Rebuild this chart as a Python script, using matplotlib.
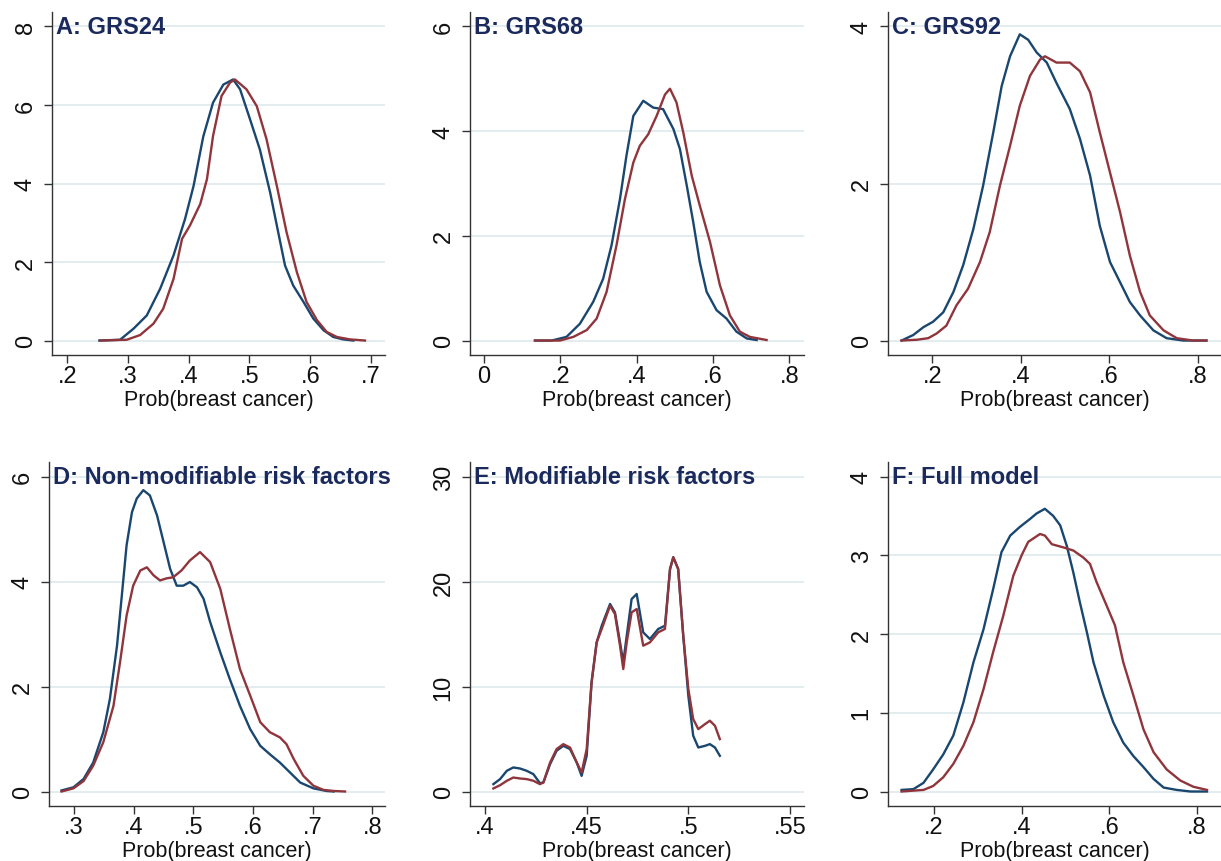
import matplotlib
matplotlib.use('Agg')
import matplotlib.pyplot as plt
import matplotlib.transforms as mtransforms

plt.rcParams['font.family'] = ['Liberation Sans', 'DejaVu Sans']

# ---- data (kernel density curves) ----
a_blue_x = [.253, .287, .309, .331, .353, .375, .394, .408, .424, .44, .457, .473, .4845, .501, .517,
            .534, .545, .5585, .572, .589, .605, .622, .638, .654, .671]
a_blue_y = [0, .02, .3, .64, 1.32, 2.17, 3.1, 3.94, 5.2, 6.06, 6.52, 6.65, 6.4, 5.63, 4.87,
            3.77, 2.93, 1.91, 1.4, .98, .56, .26, .09, .03, 0]
a_red_x = [.254, .298, .32, .342, .358, .375, .389, .402, .419, .43, .44, .454, .468, .476, .495,
           .512, .528, .545, .561, .578, .594, .611, .627, .644, .665, .69]
a_red_y = [0, .02, .14, .43, .81, 1.57, 2.59, 2.93, 3.48, 4.11, 5.21, 6.23, 6.57, 6.65, 6.4,
           5.97, 5.13, 3.94, 2.76, 1.74, .98, .52, .22, .09, .03, 0]

b_blue_x = [.1335, .177, .216, .251, .286, .312, .334, .356, .373, .391, .417, .443, .469, .496, .513,
            .531, .548, .565, .583, .609, .635, .661, .688, .714]
b_blue_y = [0, 0, .07, .32, .74, 1.18, 1.82, 2.7, 3.53, 4.29, 4.58, 4.45, 4.42, 4.04, 3.66,
            2.96, 2.26, 1.5, .93, .58, .42, .17, .04, .01]
b_red_x = [.1335, .199, .234, .269, .295, .321, .347, .369, .391, .408, .43, .452, .474, .487, .504,
           .522, .544, .565, .592, .618, .644, .67, .696, .74]
b_red_y = [0, 0, .07, .2, .42, .93, 1.82, 2.7, 3.4, 3.72, 3.94, 4.29, 4.7, 4.81, 4.55,
           3.97, 3.15, 2.58, 1.88, 1.05, .48, .17, .07, .01]

c_blue_x = [.1306, .157, .18, .202, .225, .248, .27, .293, .315, .338, .357, .376, .398, .417, .436,
            .459, .481, .511, .534, .557, .579, .602, .625, .647, .67, .7, .73, .768, .82]
c_blue_y = [0, .07, .17, .24, .36, .62, .96, 1.42, 1.97, 2.65, 3.24, 3.62, 3.9, 3.83, 3.67,
            3.54, 3.28, 2.95, 2.57, 2.1, 1.46, 1.0, .74, .49, .32, .13, .03, 0, 0]
c_red_x = [.1306, .165, .191, .21, .232, .255, .281, .308, .33, .353, .376, .398, .421, .444, .455,
           .481, .511, .534, .557, .579, .602, .625, .647, .67, .692, .723, .753, .79, .82]
c_red_y = [0, .01, .03, .09, .19, .45, .66, 1.0, 1.38, 1.97, 2.48, 2.99, 3.37, 3.58, 3.62,
           3.54, 3.54, 3.43, 3.16, 2.65, 2.14, 1.63, 1.08, .62, .32, .13, .03, 0, 0]

d_blue_x = [.279, .299, .316, .332, .349, .36, .372, .38, .388, .397, .405, .416, .427, .439, .45,
            .461, .472, .483, .494, .506, .517, .528, .545, .561, .578, .595, .612, .628, .645,
            .662, .679, .701, .723, .735]
d_blue_y = [.02, .08, .24, .55, 1.13, 1.76, 2.78, 3.73, 4.69, 5.32, 5.58, 5.74, 5.64, 5.26, 4.75,
            4.24, 3.92, 3.92, 3.99, 3.89, 3.67, 3.23, 2.65, 2.14, 1.63, 1.19, .87, .71, .55,
            .36, .17, .06, .01, 0]
d_red_x = [.279, .299, .316, .332, .349, .366, .377, .388, .399, .411, .422, .433, .444, .455, .466,
           .48, .494, .511, .528, .545, .561, .578, .595, .612, .628, .645, .656, .668, .684,
           .701, .718, .735, .754]
d_red_y = [0, .06, .2, .49, .94, 1.63, 2.46, 3.35, 3.92, 4.21, 4.27, 4.12, 4.02, 4.06, 4.08,
           4.21, 4.4, 4.56, 4.37, 3.86, 3.1, 2.33, 1.83, 1.32, 1.13, 1.03, .9, .62, .3,
           .11, .03, .01, 0]

e_x = [.4041, .4074, .4107, .4139, .4172, .4205, .4238, .427, .4287, .432, .4352, .4385, .4418,
       .4451, .4475, .45, .4524, .4549, .4574, .4615, .4639, .4664, .468, .4697, .4721, .4746,
       .4778, .4811, .4852, .4885, .491, .4926, .495, .4975, .5, .5024, .5049, .5082, .5106,
       .5131, .5155]
e_blue_y = [.7, 1.18, 1.97, 2.29, 2.19, 1.97, 1.65, .79, .86, 2.61, 3.88, 4.35, 4.04,
            2.76, 1.49, 3.4, 10.39, 14.2, 15.79, 17.86, 17.06, 14.2, 12.3, 14.84, 18.33, 18.81,
            15.16, 14.52, 15.48, 15.79, 21.19, 22.31, 21.19, 14.84, 9.12, 5.31, 4.19, 4.35, 4.51,
            4.19, 3.4]
e_red_y = [.29, .6, 1.02, 1.33, 1.24, 1.18, 1.02, .7, .86, 2.76, 4.04, 4.51, 4.19,
           2.76, 1.81, 4.04, 10.39, 14.2, 15.48, 17.7, 16.9, 13.89, 11.66, 14.2, 17.06, 17.38,
           13.89, 14.2, 15.16, 15.48, 21.19, 22.31, 21.19, 14.84, 9.76, 6.9, 5.94, 6.42, 6.74,
           6.26, 4.99]

f_blue_x = [.126, .153, .176, .198, .221, .244, .267, .29, .313, .335, .354, .374, .396, .419, .434,
            .453, .472, .488, .503, .518, .533, .549, .564, .587, .609, .632, .655, .678, .701,
            .724, .754, .785, .823]
f_blue_y = [.02, .03, .11, .28, .47, .71, 1.13, 1.64, 2.06, 2.57, 3.04, 3.25, 3.36, 3.46, 3.53,
            3.59, 3.5, 3.38, 3.12, 2.78, 2.4, 2.02, 1.64, 1.22, .88, .62, .45, .31, .16,
            .05, .02, 0, 0]
f_red_x = [.126, .176, .198, .221, .244, .267, .29, .313, .335, .358, .381, .4, .415, .442, .453,
           .469, .495, .518, .541, .556, .571, .594, .613, .632, .655, .678, .701, .731, .762,
           .792, .823]
f_red_y = [0, .02, .07, .18, .35, .58, .88, 1.3, 1.77, 2.23, 2.74, 3.0, 3.17, 3.27, 3.25,
           3.14, 3.1, 3.06, 2.97, 2.89, 2.66, 2.36, 2.11, 1.64, 1.22, .79, .5, .28, .14,
           .06, .02]

titles = ['A: GRS24', 'B: GRS68', 'C: GRS92',
          'D: Non-modifiable risk factors', 'E: Modifiable risk factors', 'F: Full model']
xticks = [[.2, .3, .4, .5, .6, .7], [0, .2, .4, .6, .8], [.2, .4, .6, .8],
          [.3, .4, .5, .6, .7, .8], [.4, .45, .5, .55], [.2, .4, .6, .8]]
yticks = [[0, 2, 4, 6, 8], [0, 2, 4, 6], [0, 2, 4],
          [0, 2, 4, 6], [0, 10, 20, 30], [0, 1, 2, 3, 4]]
xlims = [(.175, .723), (-.0367, .838), (.1, .853), (.258, .821), (.3926, .5569), (.095, .855)]

curves = [
    (a_blue_x, a_blue_y, a_red_x, a_red_y),
    (b_blue_x, b_blue_y, b_red_x, b_red_y),
    (c_blue_x, c_blue_y, c_red_x, c_red_y),
    (d_blue_x, d_blue_y, d_red_x, d_red_y),
    (e_x, e_blue_y, e_x, e_red_y),
    (f_blue_x, f_blue_y, f_red_x, f_red_y),
]

blue = '#1a476f'
red = '#90353b'
title_color = '#1b2a5c'
grid_color = '#e1ebee'

W, H = 1221, 862
# pixel boxes: left, right, top, bottom
boxes = [(52, 385, 13, 356), (470, 804, 13, 356), (888, 1221, 13, 356),
         (49, 385, 463, 807), (470, 804, 463, 807), (888, 1221, 463, 807)]


def fmt(v):
    s = ('%g' % v)
    if s.startswith('0.'):
        s = s[1:]
    return s


fig = plt.figure(figsize=(W / 100, H / 100), dpi=100)

for i in range(6):
    l, r, t, b = boxes[i]
    ax = fig.add_axes([l / W, 1 - b / H, (r - l) / W, (b - t) / H])
    bx, by, rx, ry = curves[i]
    ax.plot(bx, by, color=blue, lw=1.7, zorder=3, solid_joinstyle='round')
    ax.plot(rx, ry, color=red, lw=1.7, zorder=3, solid_joinstyle='round')

    yt = yticks[i]
    span = yt[-1] - yt[0]
    pad = span * 14.5 / (342 - 27)
    ax.set_ylim(yt[0] - pad, yt[-1] + pad)
    ax.set_xlim(*xlims[i])

    ax.set_xticks(xticks[i])
    ax.set_xticklabels([fmt(v) for v in xticks[i]])
    ax.set_yticks(yt)
    ax.set_yticklabels([fmt(v) for v in yt], rotation=90, va='center')

    ax.yaxis.grid(True, color=grid_color, lw=1.3, zorder=0)
    ax.set_axisbelow(True)

    for side in ['top', 'right']:
        ax.spines[side].set_visible(False)
    for side in ['left', 'bottom']:
        ax.spines[side].set_color('#333333')
        ax.spines[side].set_linewidth(1.0)

    ax.tick_params(axis='both', direction='out', length=6, width=1.0,
                   color='#333333', labelsize=17, labelcolor='#111111')
    ax.tick_params(axis='x', pad=1)
    ax.tick_params(axis='y', pad=5)

    ax.set_xlabel('Prob(breast cancer)', fontsize=15.5, color='#111111', labelpad=2)

    trans = mtransforms.blended_transform_factory(ax.transAxes, ax.transData)
    ax.text(0.012, yt[-1], titles[i], transform=trans, fontsize=17, fontweight='bold',
            color=title_color, va='center', ha='left', zorder=4, clip_on=False)

fig.savefig('out.png', dpi=100, facecolor='white')
